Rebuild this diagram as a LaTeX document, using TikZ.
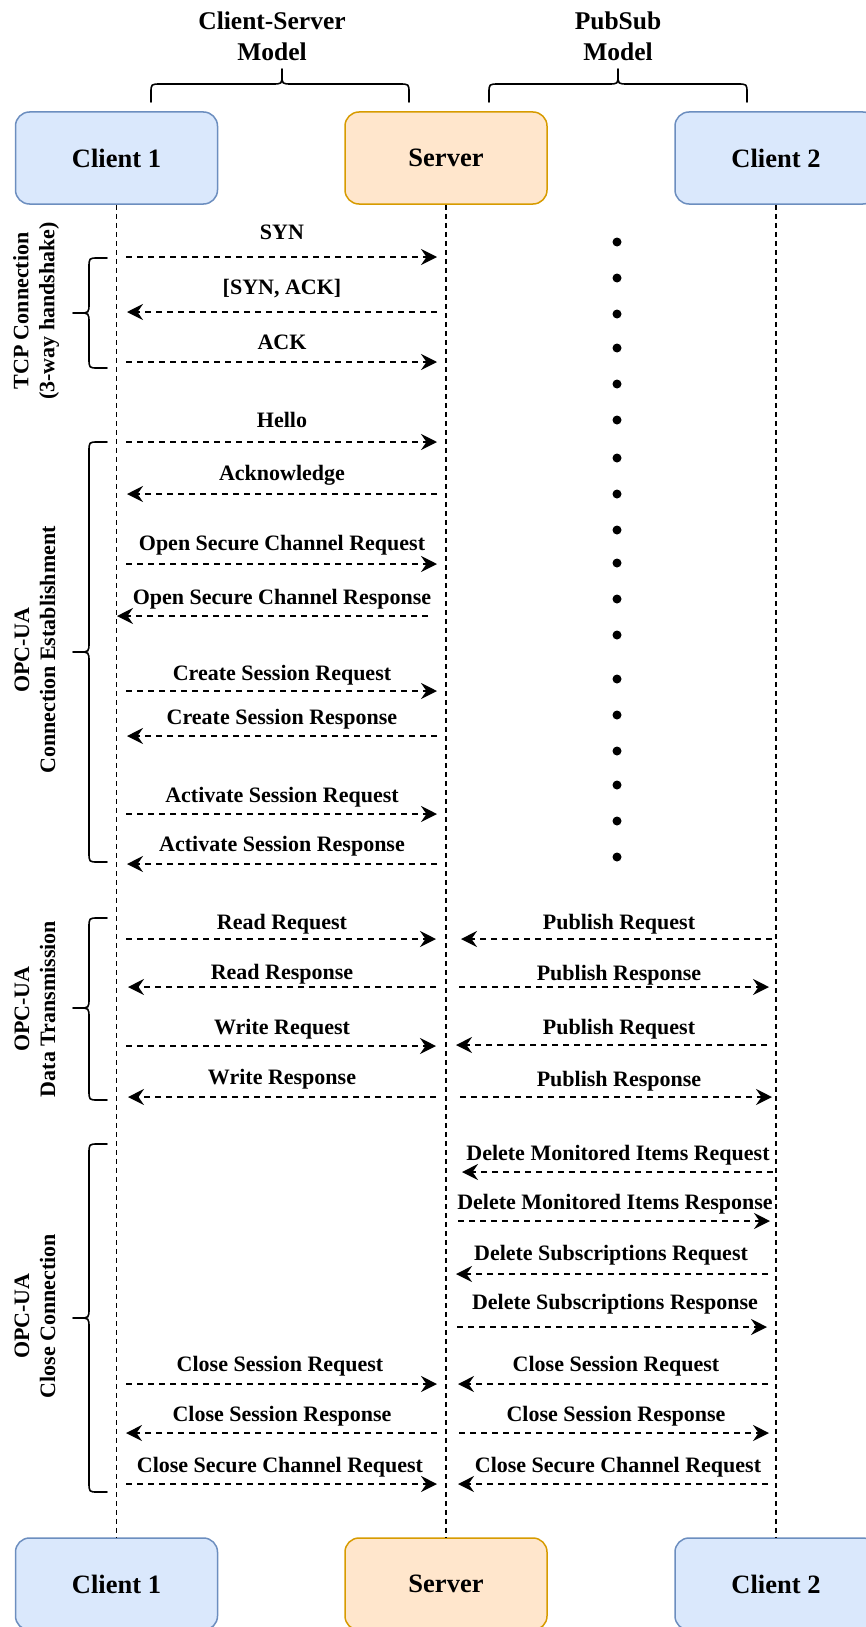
\documentclass[tikz,border=0pt]{standalone}
\usepackage{fontspec}
\setmainfont{Liberation Serif}
\usetikzlibrary{arrows.meta}
\definecolor{clientfill}{HTML}{DAE8FC}
\definecolor{clientdraw}{HTML}{6C8EBF}
\definecolor{serverfill}{HTML}{FFE6CC}
\definecolor{serverdraw}{HTML}{D79B00}

% message arrow: name, y, x from, x to, label x, label centre y, label text
\newcommand\msgarrow[7]{%
  \coordinate (#1-a) at (#3,#2);
  \coordinate (#1-b) at (#4,#2);
  \draw[msg] (#1-a) -- (#1-b);
  \node[lbl] (#1-t) at (#5,#6+7) {#7};
}
% left curly brace: top y, tip y, bottom y
\newcommand\sidebrace[3]{%
  \draw[bracestroke] (107,#1) -- (98,#1) .. controls (89,#1) .. (89,#1+10)
    -- (89,#2-10) .. controls (89,#2) .. (79,#2) -- (73,#2)
    (79,#2) .. controls (89,#2) .. (89,#2+10)
    -- (89,#3-10) .. controls (89,#3) .. (98,#3) -- (107,#3);
}
% upper curly brace: left x, tip x, right x
\newcommand\topbrace[3]{%
  \draw[bracestroke] (#1,102) -- (#1,93) .. controls (#1,84) .. (#1+10,84)
    -- (#2-10,84) .. controls (#2,84) .. (#2,75) -- (#2,69)
    (#2,75) .. controls (#2,84) .. (#2+10,84)
    -- (#3-10,84) .. controls (#3,84) .. (#3,93) -- (#3,102);
}

\begin{document}
\begin{tikzpicture}[x=1pt,y=-1pt,
  actor/.style={rounded corners=14pt, minimum width=202pt, minimum height=92pt,
    line width=1.5pt, inner sep=0pt, font=\fontsize{26.5}{30}\selectfont\bfseries},
  clientbox/.style={actor, fill=clientfill, draw=clientdraw},
  serverbox/.style={actor, fill=serverfill, draw=serverdraw},
  lifeline/.style={line width=1.6pt, dash pattern=on 5pt off 4pt},
  msg/.style={line width=1.6pt, dash pattern=on 6pt off 5pt,
    -{Stealth[length=16pt,width=16pt,inset=5.5pt]}},
  lbl/.style={font=\fontsize{22}{25}\selectfont\bfseries, anchor=base, inner sep=0pt},
  header/.style={font=\fontsize{25.5}{31}\selectfont\bfseries, anchor=base, inner sep=0pt},
  phase/.style={font=\fontsize{22}{26}\selectfont\bfseries, align=center, rotate=90, inner sep=0pt},
  bracestroke/.style={line width=1.6pt, line cap=round, line join=round},
]
\useasboundingbox (0,0) rectangle (866,1627);

% participants
\node[clientbox] (c1) at (116.5,158) {Client 1};
\node[serverbox] (srv) at (446,158) {Server};
\node[clientbox] (c2) at (776,158) {Client 2};
\node[clientbox] (c1b) at (116.5,1584) {Client 1};
\node[serverbox] (srvb) at (446,1584) {Server};
\node[clientbox] (c2b) at (776,1584) {Client 2};

% lifelines
\draw[lifeline] (c1.south) -- (c1b.north);
\draw[lifeline] (srv.south) -- (srvb.north);
\draw[lifeline] (c2.south) -- (c2b.north);

% model headers
\node[header] (cs1) at (272,30) {Client-Server};
\node[header] (cs2) at (272,61) {Model};
\node[header] (ps1) at (618,30) {PubSub};
\node[header] (ps2) at (618,61) {Model};
\topbrace{151}{282}{409}
\topbrace{489}{618}{747}

% phase braces and labels
\sidebrace{258}{313}{368}
\sidebrace{442}{652}{862}
\sidebrace{918}{1008}{1100}
\sidebrace{1144}{1318}{1492}
\node[phase] (ph1) at (36,311) {TCP Connection\\(3-way handshake)};
\node[phase] (ph2) at (35,650) {OPC-UA\\Connection Establishment};
\node[phase] (ph3) at (35,1009) {OPC-UA\\Data Transmission};
\node[phase] (ph4) at (35,1316) {OPC-UA\\Close Connection};

% PubSub idle marks
\foreach \d in {242,278,314,348,384,420,458,494,530,563,599,635,679,715,751,785,821,857}
  \fill (617,\d) circle[radius=4.5pt];

% client 1 <-> server
\msgarrow{syn}{257}{126}{437}{282}{232}{SYN}
\msgarrow{synack}{312}{437}{127}{282}{287}{[SYN, ACK]}
\msgarrow{ack}{362}{126}{437}{282}{342}{ACK}
\msgarrow{hello}{442}{126}{437}{282}{420}{Hello}
\msgarrow{ackn}{494}{437}{127}{282}{473}{Acknowledge}
\msgarrow{oscreq}{564}{126}{437}{282}{543}{Open Secure Channel Request}
\msgarrow{oscresp}{616}{428}{117}{282}{597}{Open Secure Channel Response}
\msgarrow{csreq}{691}{126}{437}{282}{673}{Create Session Request}
\msgarrow{csresp}{736}{437}{127}{282}{717}{Create Session Response}
\msgarrow{asreq}{814}{126}{437}{282}{795}{Activate Session Request}
\msgarrow{asresp}{864}{437}{127}{282}{844}{Activate Session Response}
\msgarrow{rdreq}{939}{126}{436}{282}{922}{Read Request}
\msgarrow{rdresp}{987}{436}{128}{282}{972}{Read Response}
\msgarrow{wrreq}{1046}{126}{436}{282}{1027}{Write Request}
\msgarrow{wrresp}{1097}{436}{128}{282}{1077}{Write Response}
\msgarrow{clsreqL}{1384}{126}{437}{280}{1364}{Close Session Request}
\msgarrow{clsrespL}{1433}{437}{126}{282}{1414}{Close Session Response}
\msgarrow{cscreqL}{1484}{126}{437}{280}{1465}{Close Secure Channel Request}

% client 2 <-> server
\msgarrow{pubreqA}{939}{772}{461}{619}{922}{Publish Request}
\msgarrow{pubrespA}{987}{459}{769}{619}{973}{Publish Response}
\msgarrow{pubreqB}{1045}{767}{456}{619}{1027}{Publish Request}
\msgarrow{pubrespB}{1097}{460}{772}{619}{1079}{Publish Response}
\msgarrow{dmireq}{1172}{773}{462}{618}{1153}{Delete Monitored Items Request}
\msgarrow{dmiresp}{1221}{458}{770}{615}{1202}{Delete Monitored Items Response}
\msgarrow{dsreq}{1274}{768}{456}{611}{1253}{Delete Subscriptions Request}
\msgarrow{dsresp}{1327}{457}{767}{615}{1302}{Delete Subscriptions Response}
\msgarrow{clsreqR}{1384}{768}{458}{616}{1364}{Close Session Request}
\msgarrow{clsrespR}{1433}{459}{769}{616}{1414}{Close Session Response}
\msgarrow{cscreqR}{1484}{768}{458}{618}{1465}{Close Secure Channel Request}
\end{tikzpicture}
\end{document}
